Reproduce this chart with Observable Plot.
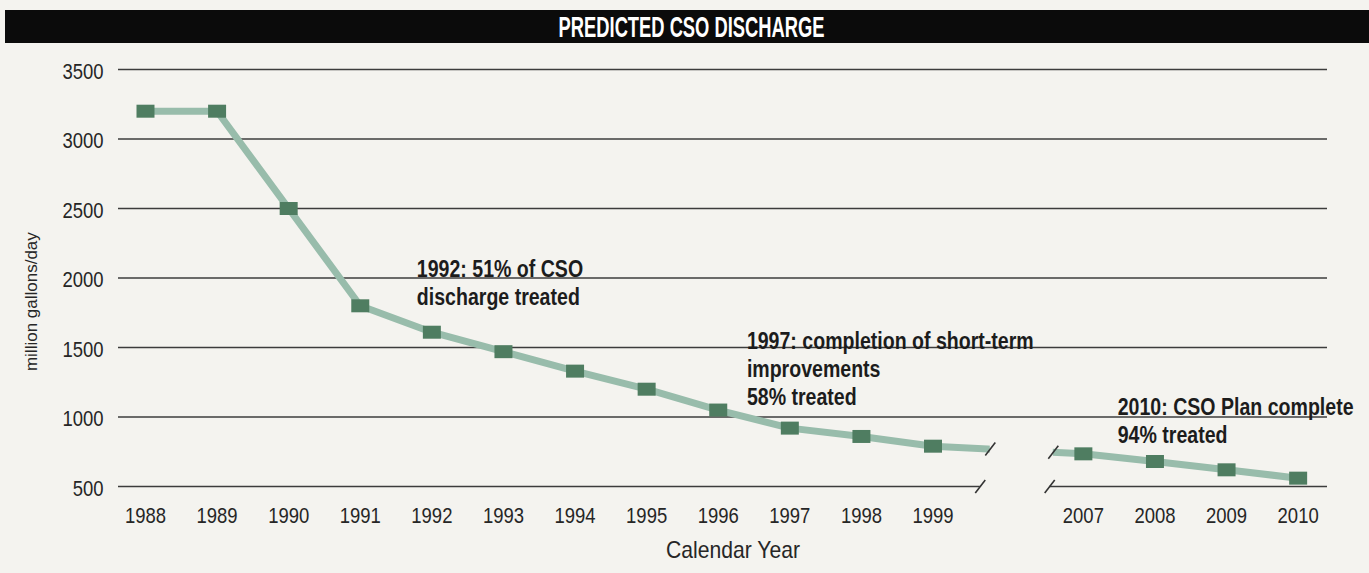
<!DOCTYPE html>
<html>
<head>
<meta charset="utf-8">
<script src="https://cdn.jsdelivr.net/npm/d3@7"></script>
<script src="https://cdn.jsdelivr.net/npm/@observablehq/plot@0.6"></script>
<style>
  html, body { margin: 0; padding: 0; background: #f4f3ef; width: 1369px; height: 573px; overflow: hidden; }
  #title { position: absolute; left: 5px; top: 10px; width: 1364px; height: 33px; background: #0b0b0b; color: #fff; text-align: center; overflow: hidden; }
  #title span { display: inline-block; font-family: "Liberation Sans", sans-serif; font-weight: bold; font-size: 30px; line-height: 33px; margin-left: 10px; transform-origin: center; }
  #chart { position: absolute; left: 0; top: 43px; }
</style>
</head>
<body>
<div id="title"><span>PREDICTED CSO DISCHARGE</span></div>
<div id="chart"></div>
<script>
// ---- data ----
const years = [1988, 1989, 1990, 1991, 1992, 1993, 1994, 1995, 1996, 1997, 1998, 1999, 2007, 2008, 2009, 2010];
const discharge = [3200, 3200, 2500, 1800, 1610, 1470, 1330, 1200, 1050, 920, 860, 790, 735, 680, 620, 560];
const yTicks = [500, 1000, 1500, 2000, 2500, 3000, 3500];
const notes = [
  "1992: 51% of CSO\ndischarge treated",
  "1997: completion of short-term\nimprovements\n58% treated",
  "2010: CSO Plan complete\n94% treated"
];
const xLabel = "Calendar Year";
const yLabel = "million gallons/day";

// ---- layout: broken x axis (1999 … 2007) ----
const gapSlots = 2.1;
const pos = yr => yr <= 1999 ? yr - 1988 : (yr - 2007) + 11 + gapSlots;
const xDomain = [-0.377, 16.51];
const gridBreak = [11.66, 12.63];
const lineBreak = [11.8, 12.68];

const rows = years.map((yr, i) => ({year: yr, x: pos(yr), v: discharge[i]}));
const labelOf = new Map(rows.map(d => [d.x, String(d.year)]));

// value on the straight 1999→2007 segment at a given x (for break marks)
const a = rows.find(d => d.year === 1999), b = rows.find(d => d.year === 2007);
const onSeg = x => a.v + (b.v - a.v) * (x - a.x) / (b.x - a.x);

const bg = "#f4f3ef";
const ink = "#262626";
const rectSymbol = { draw(ctx) { ctx.rect(-9, -6.5, 18, 13); } };
const slashSymbol = { draw(ctx) { ctx.moveTo(-5, 6.5); ctx.lineTo(5, -6.5); } };

const noteAnchors = [
  {x: pos(1992) - 0.21, v: 2150},
  {x: pos(1997) - 0.60, v: 1630},
  {x: pos(2010) - 2.52, v: 1155}
];

const chart = Plot.plot({
  width: 1369,
  height: 530,
  marginLeft: 118,
  marginRight: 42,
  marginTop: 26,
  marginBottom: 87,
  style: {background: "transparent", fontFamily: "'Liberation Sans', sans-serif", fontSize: "22px", color: ink},
  x: {type: "linear", domain: xDomain},
  y: {domain: [500, 3500]},
  marks: [
    Plot.ruleY(yTicks.filter(t => t > 500), {stroke: "#3c3c3c", strokeWidth: 1.6}),
    Plot.ruleY([500], {x1: xDomain[0], x2: gridBreak[0], stroke: "#3c3c3c", strokeWidth: 1.6}),
    Plot.ruleY([500], {x1: gridBreak[1], x2: xDomain[1], stroke: "#3c3c3c", strokeWidth: 1.6}),
    Plot.line(rows, {x: "x", y: "v", stroke: "#98bcab", strokeWidth: 7}),
    Plot.rect([0], {x1: lineBreak[0], x2: lineBreak[1], y1: 620, y2: 900, fill: bg}),
    Plot.dot(rows, {x: "x", y: "v", symbol: rectSymbol, fill: "#4f7d61", stroke: "none"}),
    Plot.dot(lineBreak.map(x => ({x, v: onSeg(x)})), {x: "x", y: "v", symbol: slashSymbol, stroke: "#333", strokeWidth: 1.6, fill: "none"}),
    Plot.dot(gridBreak.map(x => ({x, v: 500})), {x: "x", y: "v", symbol: slashSymbol, stroke: "#333", strokeWidth: 1.6, fill: "none"}),
    Plot.axisY(yTicks, {tickSize: 0, tickPadding: 15, fontSize: 22, label: null, dy: 2, fill: ink, tickFormat: d => String(d)}),
    Plot.axisX(rows.map(d => d.x), {tickSize: 0, tickPadding: 21, fontSize: 22, label: null, tickFormat: x => labelOf.get(x), fill: ink}),
    Plot.text([xLabel], {frameAnchor: "bottom", lineAnchor: "top", dy: 54, dx: 10, fontSize: 24, fill: ink}),
    Plot.text([yLabel], {x: xDomain[0], y: 1830, dx: -87, rotate: -90, fontSize: 17, fill: ink}),
    Plot.text(notes, {
      x: (d, i) => noteAnchors[i].x,
      y: (d, i) => noteAnchors[i].v,
      text: d => d,
      textAnchor: "start",
      lineAnchor: "top",
      fontSize: 23,
      fontWeight: "bold",
      lineHeight: 1.22,
      fill: "#1c1c1c"
    })
  ]
});
document.getElementById("chart").appendChild(chart);

// ---- condensed look: compress text horizontally (no narrow face installed) ----
function squeeze(el, f) {
  const L = el.getComputedTextLength();
  if (L > 0) {
    el.setAttribute("textLength", (L * f).toFixed(1));
    el.setAttribute("lengthAdjust", "spacingAndGlyphs");
  }
}
chart.querySelectorAll("text").forEach(t => {
  const content = t.textContent;
  if (content === yLabel) return;
  const tspans = t.querySelectorAll("tspan");
  if (tspans.length) { tspans.forEach(s => squeeze(s, 0.85)); return; }
  squeeze(t, content === xLabel ? 0.88 : 0.84);
});
const sp = document.querySelector("#title span");
const w = sp.getBoundingClientRect().width;
sp.style.transform = `scaleX(${(266 / w).toFixed(3)})`;
</script>
</body>
</html>
